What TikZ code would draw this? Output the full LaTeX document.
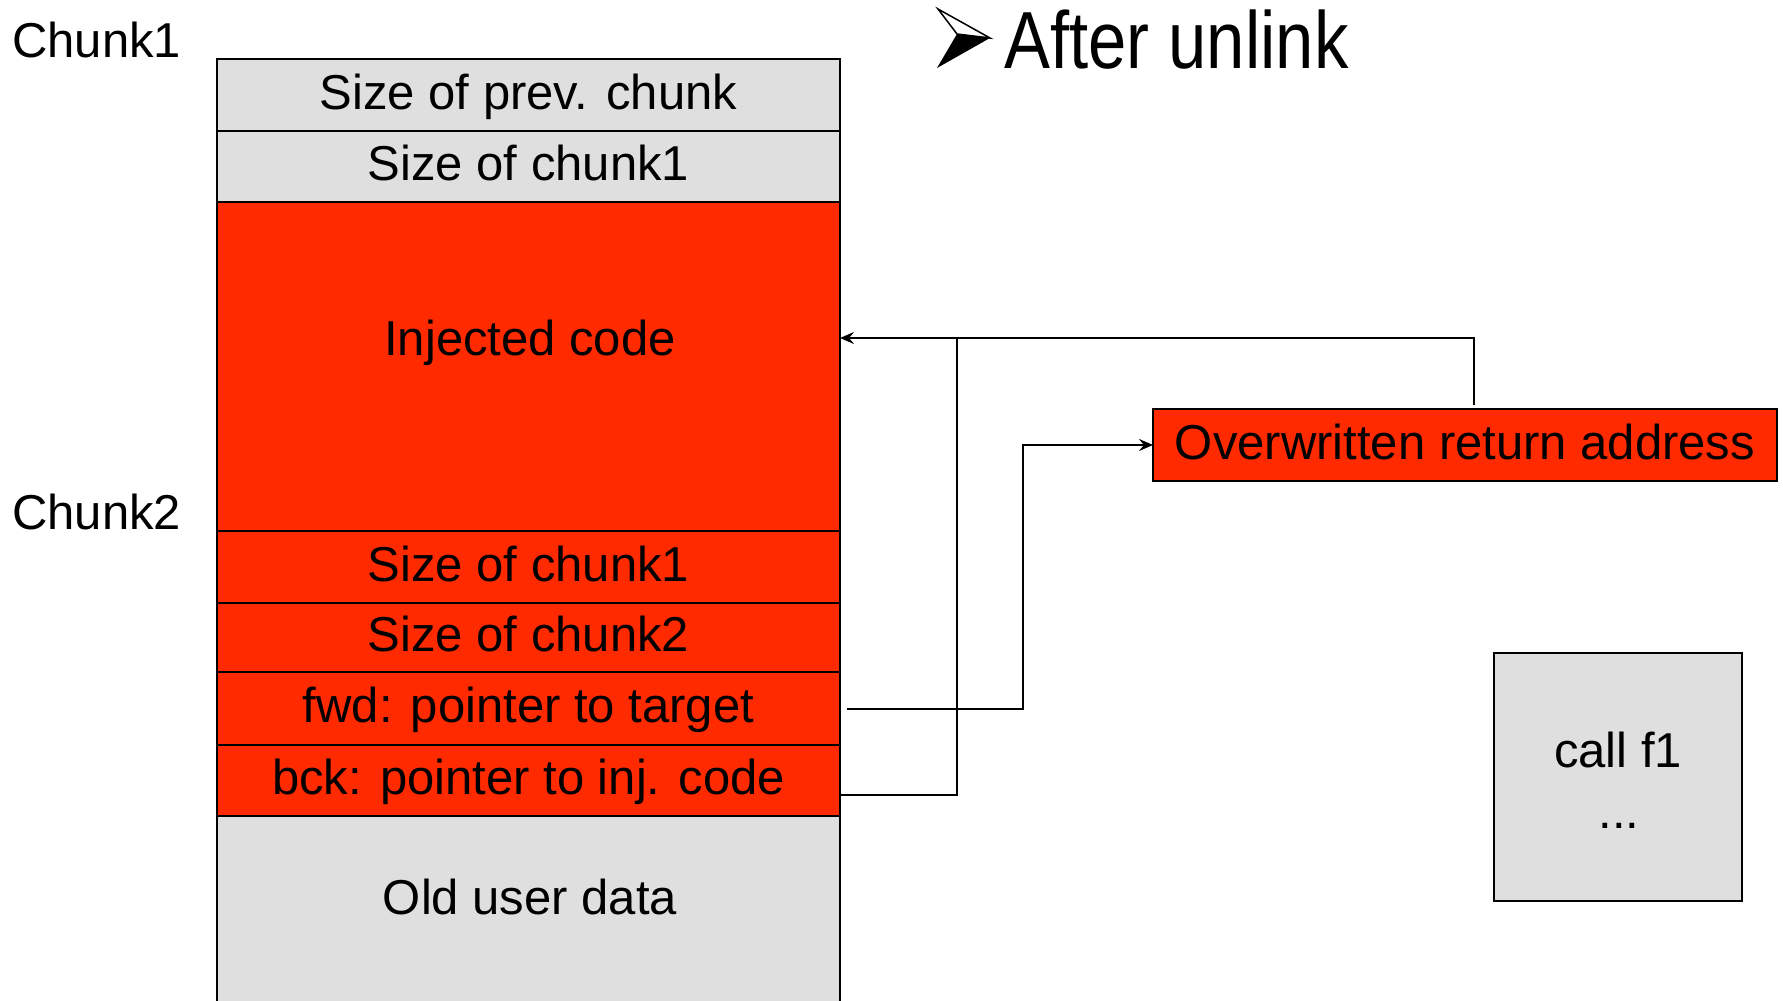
\documentclass[tikz,border=0pt]{standalone}
\usepackage{fontspec}
\setmainfont{Liberation Sans}
\newfontfamily\narrowfont[FakeStretch=0.85]{Liberation Sans}
\usetikzlibrary{arrows.meta,calc}
\definecolor{heapred}{RGB}{255,42,0}
\definecolor{heapgray}{RGB}{223,223,223}
\begin{document}
\begin{tikzpicture}[x=1pt,y=-1pt,
  bigtext/.style={font=\fontsize{49}{58}\selectfont, text height=35pt, text depth=0pt},
  cell/.style={draw=black, line width=2pt, minimum width=623pt, inner sep=0pt, outer sep=0pt, bigtext, text depth=7pt},
  graycell/.style={cell, fill=heapgray},
  redcell/.style={cell, fill=heapred},
  lbl/.style={bigtext, inner sep=0pt},
  conn/.style={draw=black, line width=2pt},
  tip/.style={-{Stealth[length=14pt,width=12pt,inset=5pt]}}
]
\useasboundingbox (0,0) rectangle (1783,1001);

% bottom part of the heap (continues below the page)
\fill[heapgray] (217,816) rectangle (840,1001);
\draw[line width=2pt] (217,1001) -- (217,816) -- (840,816) -- (840,1001);
\node[lbl] (old) at (530,897) {Old user data};

% chunk 1 header
\node[graycell, minimum height=72pt] (prev) at (528.5,95) {Size of prev. chunk};
\node[graycell, minimum height=71pt] (sz1) at (528.5,166.5) {Size of chunk1};
% chunk 1 body, now holding the payload
\node[redcell, minimum height=329pt] (inj) at (528.5,366.5) {};
\node[lbl] (injtxt) at (530,338) {Injected code};
% chunk 2 header and list pointers
\node[redcell, minimum height=72pt] (sz1b) at (528.5,567) {Size of chunk1};
\node[redcell, minimum height=69pt] (sz2) at (528.5,637.5) {Size of chunk2};
\node[redcell, minimum height=73pt] (fwd) at (528.5,708.5) {fwd: pointer to target};
\node[redcell, minimum height=71pt] (bck) at (528.5,780.5) {bck: pointer to inj. code};

% chunk labels
\node[lbl, anchor=west] (ch1) at (12,40) {Chunk1};
\node[lbl, anchor=west] (ch2) at (12,512) {Chunk2};

% title with 3D arrowhead bullet
\draw[line width=1.5pt, line join=miter, fill=white] (938,9) -- (990,38) -- (957,34) -- cycle;
\fill[black] (957,34) -- (990,38) -- (937,68) -- cycle;
\node[anchor=base west, inner sep=0pt, font=\narrowfont\fontsize{81}{90}\selectfont] (title) at (1004,68) {After unlink};

% return address slot on the stack
\node[redcell, minimum width=624pt, minimum height=72pt] (ret) at (1465,445) {Overwritten return address};

% calling code
\node[graycell, minimum width=248pt, minimum height=248pt] (call) at (1618,777) {};
\node[lbl] (calltxt) at (1618,750) {call f1};
\node[lbl, anchor=base] (dots) at (1619,828) {...};

% pointer connectors
\draw[conn, tip] ([xshift=9pt,yshift=4pt]ret.north) |- (injtxt -| inj.east);
\draw[conn] ([yshift=-14pt]bck.east) -| ($(injtxt -| inj.east)+(117,0)$);
\draw[conn, tip] ([xshift=7pt]fwd.east) -- ++(176,0) |- (ret.west);
\end{tikzpicture}
\end{document}
